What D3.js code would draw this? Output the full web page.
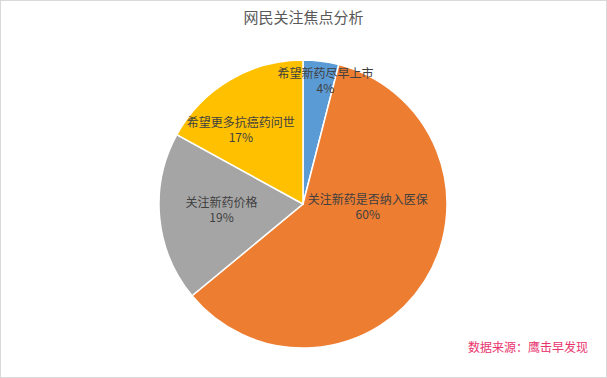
<!DOCTYPE html>
<html>
<head>
<meta charset="utf-8">
<script src="https://cdn.jsdelivr.net/npm/d3@7"></script>
<style>
  body { margin: 0; background: #fff; }
  svg { display: block; }
  text { font-family: "Noto Sans CJK SC", "Noto Sans", sans-serif; }
</style>
</head>
<body>
<div id="chart"></div>
<script>
// Chart data
const categories = ['希望新药尽早上市', '关注新药是否纳入医保', '关注新药价格', '希望更多抗癌药问世'];
const values = [4, 60, 19, 17];
const pctLabels = ['4%', '60%', '19%', '17%'];
const colors = ['#5B9BD5', '#ED7D31', '#A5A5A5', '#FFC000'];

// label placement (angle in degrees from 12 o'clock, radius as fraction of pie radius)
const labelAngle = [10.3, 91.8, 266.2, 320.3];
const labelRadius = [0.872, 0.45, 0.567, 0.676];

const width = 607;
const height = 378;
const cx = 303, cy = 204, radius = 144;

const svg = d3.select('#chart')
    .append('svg')
    .attr('width', width)
    .attr('height', height);

// light frame
svg.append('rect')
    .attr('x', 0.5).attr('y', 0.5)
    .attr('width', width - 1).attr('height', height - 1)
    .attr('fill', '#fff')
    .attr('stroke', '#d9d9d9');

// Title
svg.append('text')
    .attr('x', width / 2)
    .attr('y', 23)
    .attr('text-anchor', 'middle')
    .style('font-size', '15px')
    .style('fill', '#595959')
    .text('网民关注焦点分析');

const pie = d3.pie().sort(null).value(d => d);
const arcs = pie(values);

const arc = d3.arc().innerRadius(0).outerRadius(radius);

const g = svg.append('g').attr('transform', `translate(${cx},${cy})`);

g.selectAll('path')
    .data(arcs)
    .enter()
    .append('path')
    .attr('d', arc)
    .attr('fill', (d, i) => colors[i])
    .attr('stroke', '#fff')
    .attr('stroke-width', 1.5);

// Data labels: category name above, percentage below
const labelPos = (i) => {
    const a = labelAngle[i] * Math.PI / 180;
    const r = radius * labelRadius[i];
    return [r * Math.sin(a), -r * Math.cos(a)];
};

const labelGroups = g.selectAll('.lbl')
    .data(arcs)
    .enter()
    .append('g')
    .attr('class', 'lbl')
    .attr('transform', (d, i) => `translate(${labelPos(i)})`);

labelGroups.append('text')
    .attr('y', -2)
    .attr('text-anchor', 'middle')
    .style('font-size', '12px')
    .style('fill', '#404040')
    .text((d, i) => categories[i]);

labelGroups.append('text')
    .attr('y', 13)
    .attr('text-anchor', 'middle')
    .style('font-size', '12px')
    .style('fill', '#404040')
    .text((d, i) => pctLabels[i]);

// Source note
svg.append('text')
    .attr('x', 588)
    .attr('y', 352)
    .attr('text-anchor', 'end')
    .style('font-size', '12px')
    .style('fill', '#E8336D')
    .text('数据来源：鹰击早发现');
</script>
</body>
</html>
